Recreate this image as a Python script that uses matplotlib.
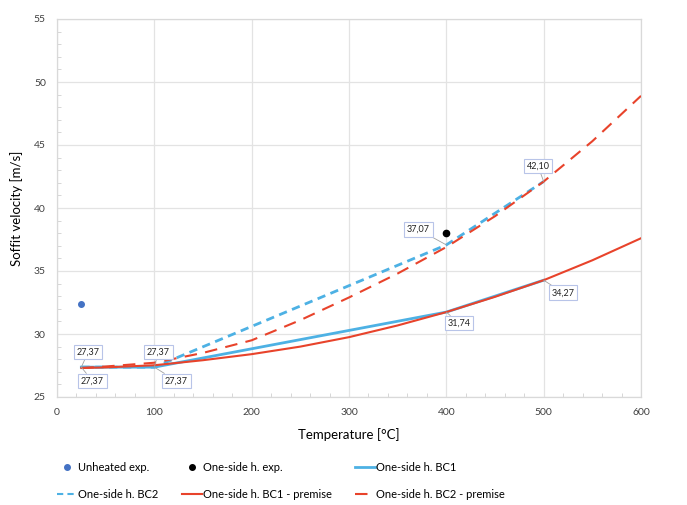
import matplotlib.pyplot as plt
import matplotlib.ticker as mtick
from matplotlib.lines import Line2D
import matplotlib

matplotlib.rc('font', **{'family': ['Lato', 'DejaVu Sans']})

# experiments
unheated_T = [25]
unheated_v = [32.4]
exp_T = [400]
exp_v = [38.0]

# one-side heating, simulation results
bc_T = [25, 100, 400, 500]
bc1_v = [27.37, 27.37, 31.74, 34.27]
bc2_v = [27.37, 27.37, 37.07, 42.10]

# premise curves
prem_T = [25, 50, 100, 150, 200, 250, 300, 350, 400, 450, 500, 550, 600]
bc1_prem_v = [27.30, 27.35, 27.52, 27.92, 28.40, 29.00, 29.75, 30.68,
              31.74, 32.95, 34.27, 35.85, 37.60]
bc2_prem_v = [27.30, 27.42, 27.72, 28.50, 29.50, 31.10, 32.90, 34.80,
              36.90, 39.35, 42.10, 45.30, 48.90]

# value labels: (x, y, offset in points)
labels = [
    (25, bc1_v[0], (5, 11)),
    (25, bc2_v[0], (8, -10)),
    (100, bc2_v[1], (3, 11)),
    (100, bc1_v[1], (16, -10)),
    (400, bc2_v[2], (-20, 11)),
    (500, bc2_v[3], (-4, 11)),
    (400, bc1_v[2], (9, -8)),
    (500, bc1_v[3], (14, -9)),
]

c_blue_line = '#4db1e4'
c_red = '#e8432b'
c_dot = '#4472c4'
c_grid = '#e3e3e3'
c_txt = '#404040'

fig = plt.figure(figsize=(6.87, 5.05), dpi=100)
ax = fig.add_axes([57/687, 1-397/505, 584/687, 378/505])

ax.plot(bc_T, bc1_v, '-', color=c_blue_line, lw=2.0, zorder=3)
ax.plot(bc_T, bc2_v, '--', color=c_blue_line, lw=2.0, dashes=(3, 2), zorder=3)
ax.plot(prem_T, bc1_prem_v, '-', color=c_red, lw=1.5, zorder=4)
ax.plot(prem_T, bc2_prem_v, '--', color=c_red, lw=1.5, dashes=(6, 4), zorder=4)
ax.plot(unheated_T, unheated_v, 'o', color=c_dot, ms=4, zorder=5)
ax.plot(exp_T, exp_v, 'o', color='black', ms=4.5, zorder=5)

# decimal comma labels
for x, y, off in labels:
    ax.annotate(('%.2f' % y).replace('.', ','), xy=(x, y), xytext=off,
                textcoords='offset points', ha='center', va='center',
                fontsize=6.5, color='#222222',
                bbox=dict(boxstyle='square,pad=0.3', fc='white', ec='#b8c4e8', lw=0.8),
                arrowprops=dict(arrowstyle='-', color='#a0a0a0', lw=0.6,
                                shrinkA=0, shrinkB=0),
                zorder=6)

ax.set_xlim(0, 600)
ax.set_ylim(25, 55)
ax.xaxis.set_major_locator(mtick.MultipleLocator(100))
ax.xaxis.set_minor_locator(mtick.MultipleLocator(20))
ax.yaxis.set_major_locator(mtick.MultipleLocator(5))
ax.yaxis.set_minor_locator(mtick.MultipleLocator(1))
ax.grid(True, which='major', color=c_grid, lw=0.9, zorder=0)
ax.set_axisbelow(True)
for s in ax.spines.values():
    s.set_color('#d9d9d9')
    s.set_linewidth(0.9)
ax.tick_params(which='both', direction='in', colors='#d0d0d0',
               labelcolor=c_txt, labelsize=7.5)
ax.tick_params(which='major', length=0, pad=8)
ax.tick_params(which='minor', length=3)

ax.set_xlabel('Temperature [°C]', fontsize=9.5, color='black', labelpad=8)
ax.set_ylabel('Soffit velocity [m/s]', fontsize=9.5, color='black', labelpad=8)

handles = [
    Line2D([], [], ls='', marker='o', color=c_dot, ms=4),
    Line2D([], [], color=c_blue_line, lw=1.5, ls='--', dashes=(3, 2)),
    Line2D([], [], ls='', marker='o', color='black', ms=4),
    Line2D([], [], color=c_red, lw=1.5),
    Line2D([], [], color=c_blue_line, lw=2.0),
    Line2D([], [], color=c_red, lw=1.5, ls='--', dashes=(6, 4)),
]
names = ['Unheated exp.', 'One-side h. BC2', 'One-side h. exp.',
         'One-side h. BC1 - premise', 'One-side h. BC1', 'One-side h. BC2 - premise']
fig.legend(handles, names, ncol=3, loc='lower left', bbox_to_anchor=(52/687, 0.0),
           frameon=False, fontsize=8, handlelength=1.8, handletextpad=0.1,
           columnspacing=2.1, labelspacing=1.45, borderaxespad=0.05)

plt.savefig('out.png', dpi=100)
